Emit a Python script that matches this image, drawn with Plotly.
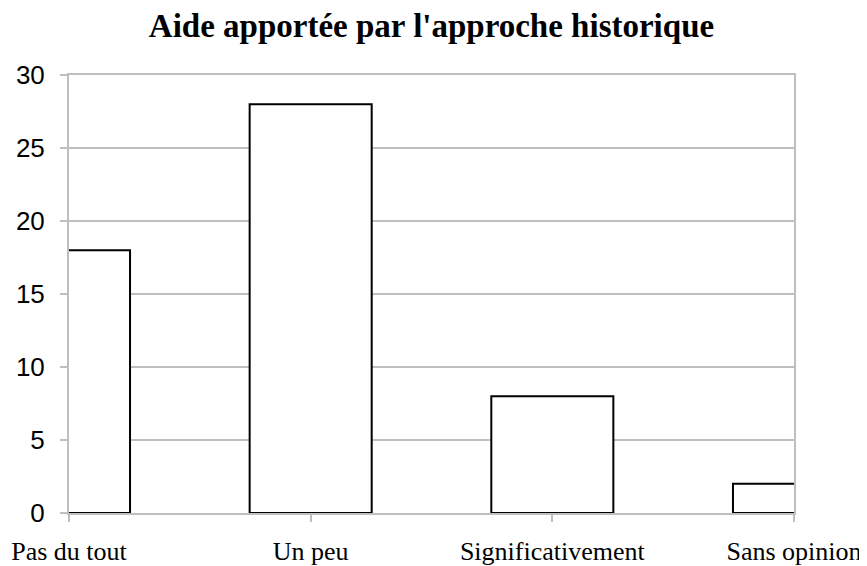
import plotly.graph_objects as go

categories = ["Pas du tout", "Un peu", "Significativement", "Sans opinion"]
values = [18, 28, 8, 2]
y_ticks = [0, 5, 10, 15, 20, 25, 30]

fig = go.Figure()
fig.add_trace(go.Bar(
    x=categories, y=values, width=0.505,
    marker=dict(color="white", line=dict(color="black", width=2)),
))

fig.update_layout(
    width=859, height=558,
    margin=dict(l=61, r=73, t=67, b=53),
    paper_bgcolor="white", plot_bgcolor="white",
    showlegend=False,
    title=dict(text="<b>Aide apportée par l'approche historique</b>",
               xref="paper", x=0.5, xanchor="center", y=0.968, yanchor="middle",
               font=dict(family="Liberation Serif", size=33, color="black")),
    xaxis=dict(type="category", range=[0, 3], automargin=False,
               showline=True, linecolor="#BFBFBF", linewidth=2, mirror=True,
               ticks="outside", ticklen=7, tickcolor="#BFBFBF", tickwidth=2,
               showgrid=False, ticklabelstandoff=7,
               tickfont=dict(family="Liberation Serif", size=26, color="black")),
    yaxis=dict(range=[0, 30], tickvals=y_ticks, automargin=False,
               showline=True, linecolor="#BFBFBF", linewidth=2, mirror=True,
               ticks="outside", ticklen=7, tickcolor="#BFBFBF", tickwidth=2,
               showgrid=True, gridcolor="#BFBFBF", gridwidth=2,
               zeroline=False, ticklabelstandoff=10,
               tickfont=dict(family="Liberation Sans", size=26, color="black")),
)

fig.write_html("out.html")
